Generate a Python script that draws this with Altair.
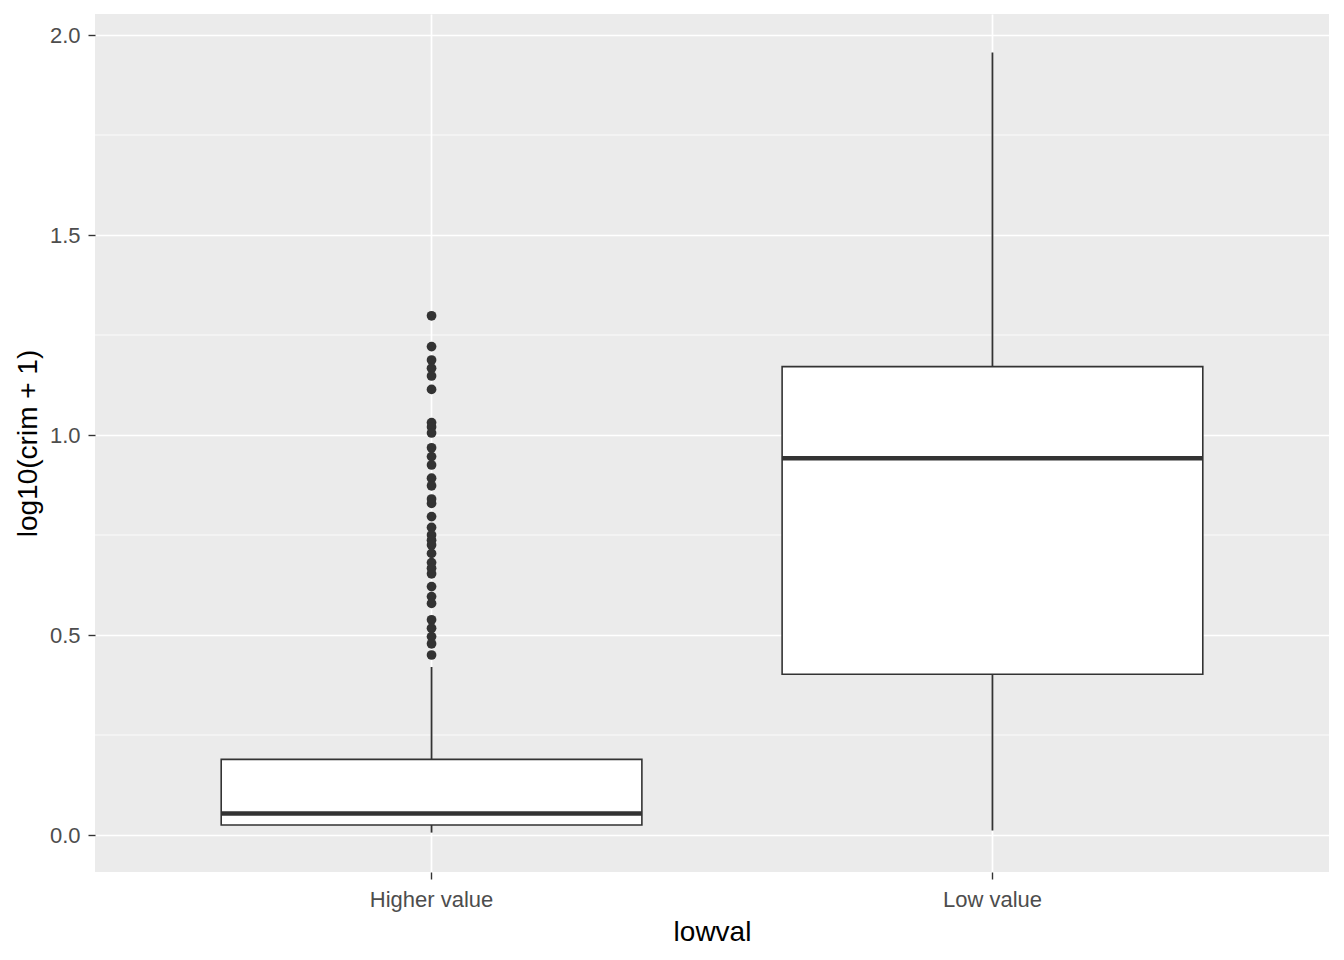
import altair as alt
import pandas as pd

categories = ["Higher value", "Low value"]
whisker_low = [0.006, 0.011]
q1 = [0.025, 0.402]
median = [0.054, 0.942]
q3 = [0.189, 1.171]
whisker_high = [0.42, 1.956]

outliers_higher = [1.298, 1.221, 1.1875, 1.167, 1.1475, 1.114, 1.031, 1.02, 1.005,
                   0.968, 0.946, 0.925, 0.892, 0.873, 0.84, 0.829, 0.796, 0.769,
                   0.75, 0.737, 0.725, 0.704, 0.681, 0.667, 0.653, 0.621, 0.596,
                   0.579, 0.538, 0.517, 0.496, 0.478, 0.45]

major_breaks = [0.0, 0.5, 1.0, 1.5, 2.0]
minor_breaks = [0.25, 0.75, 1.25, 1.75]

stats = pd.DataFrame({
    "lowval": categories,
    "lo": whisker_low,
    "q1": q1,
    "med": median,
    "q3": q3,
    "hi": whisker_high,
})
out_df = pd.DataFrame({"lowval": ["Higher value"] * len(outliers_higher),
                       "v": outliers_higher})
minor_df = pd.DataFrame({"v": minor_breaks})

FONT = "Liberation Sans"
DARK = "#333333"

xscale = alt.Scale(domain=categories, paddingInner=0.25, paddingOuter=0.225)
yscale = alt.Scale(domain=[-0.0925, 2.0525], nice=False, zero=False)

xaxis = alt.Axis(title="lowval", labelAngle=0, domain=False, grid=True,
                 gridColor="white", gridWidth=1.7, tickColor=DARK, tickWidth=1.4,
                 tickSize=7, labelColor="#4D4D4D", labelFontSize=22, labelFont=FONT,
                 labelBaseline="alphabetic", labelPadding=27,
                 titleFont=FONT, titleFontSize=28, titleFontWeight="normal",
                 titleColor="black", titleBaseline="alphabetic", titleX=617, titleY=68)
yaxis = alt.Axis(title="log10(crim + 1)", values=major_breaks, format=".1f",
                 domain=False, grid=True, gridColor="white", gridWidth=1.7,
                 tickColor=DARK, tickWidth=1.4, tickSize=7, labelColor="#4D4D4D",
                 labelFontSize=22, labelFont=FONT, labelPadding=8,
                 titleFont=FONT, titleFontSize=28, titleFontWeight="normal",
                 titleColor="black", titleAngle=270, titleBaseline="alphabetic",
                 titleAlign="center", titleX=-59, titleY=429)

minor = alt.Chart(minor_df).mark_rule(color="white", strokeWidth=0.85).encode(
    y=alt.Y("v:Q", scale=yscale, axis=yaxis)
)

whisk = alt.Chart(stats).mark_rule(color=DARK, strokeWidth=1.8).encode(
    x=alt.X("lowval:N", scale=xscale, axis=xaxis, sort=categories),
    y=alt.Y("lo:Q", scale=yscale, axis=yaxis),
    y2="hi:Q",
)

box = alt.Chart(stats).mark_bar(fill="white", stroke=DARK, strokeWidth=1.6).encode(
    x=alt.X("lowval:N", scale=xscale, axis=xaxis, sort=categories),
    y=alt.Y("q1:Q", scale=yscale, axis=yaxis),
    y2="q3:Q",
)

med = alt.Chart(stats).mark_tick(color=DARK, thickness=4.5, size=421, opacity=1,
                                 orient="horizontal").encode(
    x=alt.X("lowval:N", scale=xscale, axis=xaxis, sort=categories),
    y=alt.Y("med:Q", scale=yscale, axis=yaxis),
)

pts = alt.Chart(out_df).mark_circle(color=DARK, size=95, opacity=1).encode(
    x=alt.X("lowval:N", scale=xscale, axis=xaxis, sort=categories),
    y=alt.Y("v:Q", scale=yscale, axis=yaxis),
)

chart = alt.layer(minor, whisk, box, med, pts).properties(
    width=1234, height=858,
    autosize=alt.AutoSizeParams(type="none"),
    padding={"left": 87, "top": 6, "right": 7, "bottom": 80},
    background="white",
).configure_view(fill="#EBEBEB", strokeWidth=0, stroke=None)

chart.save("out.html", embed_options={"renderer": "svg", "actions": False})
